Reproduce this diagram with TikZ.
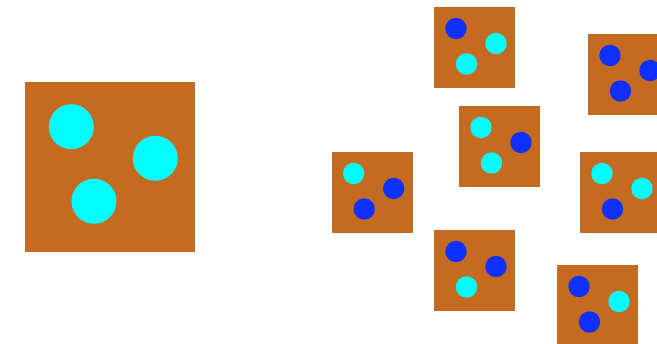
\documentclass[tikz,border=0pt]{standalone}
\usetikzlibrary{positioning}
\definecolor{tray-color}{RGB}{196,106,33}
\definecolor{on-color}{RGB}{0,255,255}
\definecolor{off-color}{RGB}{16,48,255}
\tikzset{tray/.style={fill=tray-color}}

\begin{document}
\begin{tikzpicture}[x=0.02cm, y=-0.02cm]
    \useasboundingbox (0,0) rectangle (657,344);
    \clip (0,0) rectangle (657,344);

    % Large tray - all three beads lit
    \fill[tray] (25.3,82) rectangle ++(170,170);
    \foreach \cx/\cy in {71.3/126.7, 155.3/158.3, 94/201.3} {
        \fill[on-color] (\cx,\cy) circle (0.45cm);
    }

    % Small trays - one for each other on/off combination
    \foreach \tx/\ty/\a/\b/\c in {434/7/off/on/on, 588/34/off/off/off, 459/106/on/off/on, 331.7/152/on/off/off, 580/152/on/on/off, 434/230/off/off/on, 557/265/off/on/off} {
        \fill[tray] (\tx,\ty) rectangle ++(81,81);
        \fill[\a-color] (\tx+22,\ty+21.5) circle (0.214cm);
        \fill[\b-color] (\tx+62,\ty+36.5) circle (0.214cm);
        \fill[\c-color] (\tx+32.5,\ty+57) circle (0.214cm);
    }
\end{tikzpicture}
\end{document}
